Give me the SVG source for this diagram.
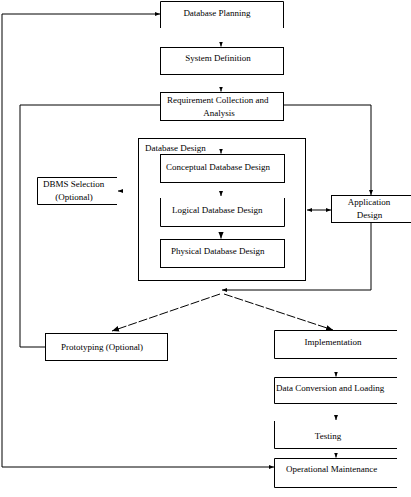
<svg xmlns="http://www.w3.org/2000/svg" width="411" height="497" viewBox="0 0 411 497">
<style>
.b{fill:none;stroke:#000;stroke-width:1}
.c{fill:none;stroke:#000;stroke-width:1}
.d{stroke-dasharray:9,2}
text{font-family:"Liberation Serif","Times New Roman",serif;font-size:9px;fill:#000}
.m{text-anchor:middle}
</style>
<defs>
<marker id="ah" viewBox="0 0 10 10" refX="10" refY="5" markerWidth="5" markerHeight="5" markerUnits="userSpaceOnUse" orient="auto-start-reverse">
<path d="M0,1 L10,5 L0,9 z" fill="#000"/>
</marker>
<marker id="ahb" viewBox="0 0 10 10" refX="10" refY="5" markerWidth="7" markerHeight="7" markerUnits="userSpaceOnUse" orient="auto">
<path d="M0,1 L10,5 L0,9 z" fill="#000"/>
</marker>
</defs>
<rect width="411" height="497" fill="#fff"/>
<g id="connectors">
<path class="c" d="M160,14 H2 V467 H274" marker-start="url(#ah)" marker-end="url(#ah)"/>
<path class="c" d="M221,44 V46.5" marker-end="url(#ah)"/>
<path class="c" d="M221,90 V91.5" marker-end="url(#ah)"/>
<path class="c" d="M160,105 H20 V347 H45"/>
<path class="c" d="M283,105 H371 V195" marker-end="url(#ah)"/>
<path class="c" d="M221,152 V153.5" marker-end="url(#ah)"/>
<path class="c" d="M221,194 V196" marker-end="url(#ah)"/>
<path class="c" d="M221,236 V238.5" marker-end="url(#ahb)"/>
<path class="c" d="M121,191 H118" marker-end="url(#ah)"/>
<path class="c" d="M307,210 H331" marker-start="url(#ah)" marker-end="url(#ah)"/>
<path class="c" d="M371,222 V290 H222" marker-end="url(#ah)"/>
<path class="c d" d="M220,294 L112,331" marker-end="url(#ahb)"/>
<path class="c d" d="M224,294 L333,330" marker-end="url(#ahb)"/>
<path class="c" d="M336,374 V376.5" marker-end="url(#ah)"/>
<path class="c" d="M336,418 V420" marker-end="url(#ah)"/>
<path class="c" d="M336,455 V457.5" marker-end="url(#ah)"/>
</g>
<g id="database-planning">
<path class="b" d="M160.5,28 V1.5 H283.5 V28"/>
<text class="m" x="217" y="16">Database Planning</text>
</g>
<g id="system-definition">
<rect class="b" x="160.5" y="47.5" width="123" height="27"/>
<text class="m" x="218" y="61">System Definition</text>
</g>
<g id="requirement-collection">
<rect class="b" x="160.5" y="92.5" width="123" height="28"/>
<text x="167" y="103">Requirement Collection and</text>
<text class="m" x="219" y="116">Analysis</text>
</g>
<g id="database-design">
<rect class="b" x="138.5" y="138.5" width="167" height="142"/>
<text x="145" y="151">Database Design</text>
</g>
<g id="conceptual-design">
<rect class="b" x="160.5" y="154.5" width="124" height="28"/>
<text x="166" y="170">Conceptual Database Design</text>
</g>
<g id="logical-design">
<path class="b" d="M160.5,198 V226.5 H284.5 V198"/>
<text x="172" y="213">Logical Database Design</text>
</g>
<g id="physical-design">
<rect class="b" x="160.5" y="239.5" width="124" height="28"/>
<text x="171" y="254">Physical Database Design</text>
</g>
<g id="dbms-selection">
<path class="b" d="M117,177.5 H37.5 V204.5 H117"/>
<text x="43" y="187">DBMS Selection</text>
<text class="m" x="74" y="200">(Optional)</text>
</g>
<g id="application-design">
<rect class="b" x="331.5" y="195.5" width="85" height="27"/>
<text class="m" x="369" y="205">Application</text>
<text class="m" x="369.5" y="218">Design</text>
</g>
<g id="prototyping">
<rect class="b" x="45.5" y="333.5" width="122" height="27"/>
<text class="m" x="102" y="350">Prototyping (Optional)</text>
</g>
<g id="implementation">
<path class="b" d="M397,330.5 H274.5 V358.5 H397"/>
<text class="m" x="333" y="345">Implementation</text>
</g>
<g id="data-conversion">
<path class="b" d="M397,377.5 H274.5 V403.5 H397"/>
<text x="276" y="391">Data Conversion and Loading</text>
</g>
<g id="testing">
<path class="b" d="M274.5,421 V448.5 H397"/>
<text class="m" x="328" y="439">Testing</text>
</g>
<g id="operational-maintenance">
<path class="b" d="M397,458.5 H274.5 V487.5 H397"/>
<text x="286" y="472">Operational Maintenance</text>
</g>
</svg>
